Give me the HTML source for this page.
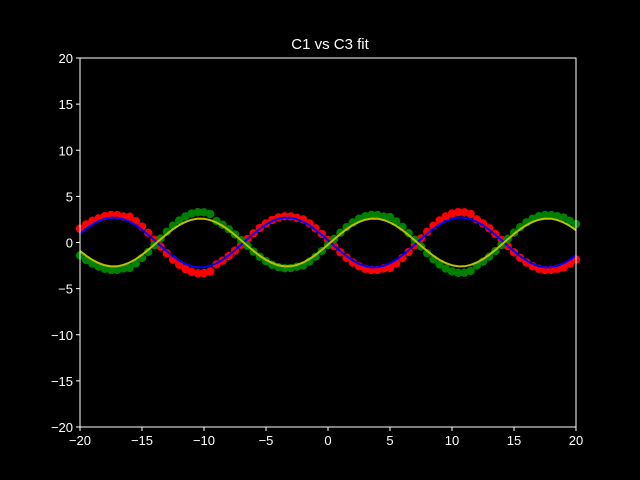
<!DOCTYPE html>
<html><head><meta charset="utf-8"><style>
html,body{margin:0;padding:0;background:#000;}
svg{display:block;font-family:"Liberation Sans","DejaVu Sans",sans-serif;}
</style></head><body>
<svg id="chart" width="640" height="480" viewBox="0 0 640 480">
<rect x="0" y="0" width="640" height="480" fill="#000"/>
<text x="330" y="49" fill="#fff" font-size="15" text-anchor="middle">C1 vs C3 fit</text>
<g id="marks"></g>
<rect x="80" y="58" width="496" height="369" fill="none" stroke="#fff" stroke-width="1"/>
<g id="axes"></g>
</svg>
<script>
const xTicks=[-20,-15,-10,-5,0,5,10,15,20];
const yTicks=[-20,-15,-10,-5,0,5,10,15,20];
const xStart=-20, xStep=0.5;
const redValues=[1.5,1.95,2.35,2.62,2.85,2.99,2.97,2.81,2.79,2.31,1.72,1.04,0.30,-0.45,-1.18,-1.85,-2.42,-2.88,-3.19,-3.34,-3.32,-3.14,-2.38,-1.97,-1.46,-0.88,-0.25,0.38,1.00,1.57,2.06,2.45,2.71,2.84,2.82,2.67,2.50,2.07,1.54,0.93,0.27,-0.40,-1.06,-1.66,-2.17,-2.58,-2.85,-2.99,-2.97,-2.81,-2.75,-2.28,-1.69,-1.02,-0.29,0.44,1.16,1.82,2.39,2.83,3.14,3.29,3.27,3.09,2.50,2.07,1.54,0.93,0.27,-0.40,-1.06,-1.66,-2.17,-2.58,-2.85,-2.99,-2.97,-2.85,-2.7,-2.3,-1.85];
const greenValues=[-1.4,-1.9,-2.3,-2.62,-2.85,-2.99,-2.97,-2.81,-2.75,-2.28,-1.69,-1.02,-0.29,0.44,1.16,1.82,2.39,2.83,3.14,3.29,3.27,3.09,2.34,1.93,1.43,0.87,0.25,-0.37,-0.99,-1.55,-2.02,-2.41,-2.66,-2.79,-2.77,-2.62,-2.50,-2.07,-1.54,-0.93,-0.27,0.40,1.06,1.66,2.17,2.58,2.85,2.99,2.97,2.81,2.75,2.28,1.69,1.02,0.29,-0.44,-1.16,-1.82,-2.39,-2.83,-3.14,-3.29,-3.27,-3.09,-2.50,-2.07,-1.54,-0.93,-0.27,0.40,1.06,1.66,2.17,2.58,2.85,2.99,2.97,2.85,2.7,2.35,2.0];
const blueFit=[0.95,1.49,1.95,2.32,2.57,2.69,2.68,2.53,2.25,1.87,1.38,0.83,0.24,-0.36,-0.95,-1.49,-1.95,-2.32,-2.57,-2.69,-2.68,-2.53,-2.25,-1.87,-1.38,-0.83,-0.24,0.36,0.95,1.49,1.95,2.32,2.57,2.69,2.68,2.53,2.25,1.87,1.38,0.83,0.24,-0.36,-0.95,-1.49,-1.95,-2.32,-2.57,-2.69,-2.68,-2.53,-2.25,-1.87,-1.38,-0.83,-0.24,0.36,0.95,1.49,1.95,2.32,2.57,2.69,2.68,2.53,2.25,1.87,1.38,0.83,0.24,-0.36,-0.95,-1.49,-1.95,-2.32,-2.57,-2.69,-2.68,-2.53,-2.25,-1.87,-1.38];
const yellowFit=[-0.92,-1.44,-1.88,-2.23,-2.47,-2.59,-2.58,-2.43,-2.17,-1.80,-1.33,-0.80,-0.23,0.35,0.92,1.44,1.88,2.23,2.47,2.59,2.58,2.43,2.17,1.80,1.33,0.80,0.23,-0.35,-0.92,-1.44,-1.88,-2.23,-2.47,-2.59,-2.58,-2.43,-2.17,-1.80,-1.33,-0.80,-0.23,0.35,0.92,1.44,1.88,2.23,2.47,2.59,2.58,2.43,2.17,1.80,1.33,0.80,0.23,-0.35,-0.92,-1.44,-1.88,-2.23,-2.47,-2.59,-2.58,-2.43,-2.17,-1.80,-1.33,-0.80,-0.23,0.35,0.92,1.44,1.88,2.23,2.47,2.59,2.58,2.43,2.17,1.80,1.33];

const NS='http://www.w3.org/2000/svg';
const L=80,R=576,T=58,B=427;
function sx(v){return L+(v+20)/40*(R-L);}
function sy(v){return B-(v+20)/40*(B-T);}
function xAt(i){return xStart+i*xStep;}
const marks=document.getElementById('marks');
const axes=document.getElementById('axes');

function drawPoints(vals,color,name){
  const g=document.createElementNS(NS,'g');
  
  
  vals.forEach((v,i)=>{
    const c=document.createElementNS(NS,'circle');
    c.setAttribute('cx',sx(xAt(i)));c.setAttribute('cy',sy(v));c.setAttribute('r',4.2);
    c.setAttribute('fill',color);
    
    
    g.appendChild(c);
  });
  marks.appendChild(g);
}
function drawLine(vals,color,name){
  const p=document.createElementNS(NS,'polyline');
  p.setAttribute('points',vals.map((v,i)=>sx(xAt(i))+','+sy(v)).join(' '));
  p.setAttribute('fill','none');p.setAttribute('stroke',color);p.setAttribute('stroke-width',2);
  
  
  marks.appendChild(p);
}
drawPoints(redValues,'#ff0000','c1-points');
drawPoints(greenValues,'#008000','c3-points');
drawLine(blueFit,'#0000ff','c1-fit-line');
drawLine(yellowFit,'#bfbf00','c3-fit-line');

xTicks.forEach(t=>{
  const x=sx(t);
  const l=document.createElementNS(NS,'line');
  l.setAttribute('x1',x);l.setAttribute('x2',x);l.setAttribute('y1',B);l.setAttribute('y2',B+4);l.setAttribute('stroke','#fff');
  
  
  axes.appendChild(l);
  const tx=document.createElementNS(NS,'text');
  tx.setAttribute('x',x);tx.setAttribute('y',B+18);tx.setAttribute('fill','#fff');tx.setAttribute('font-size','13');tx.setAttribute('text-anchor','middle');
  tx.textContent=t<0?'\u2212'+(-t):String(t);
  
  
  axes.appendChild(tx);
});
yTicks.forEach(t=>{
  const y=sy(t);
  const l=document.createElementNS(NS,'line');
  l.setAttribute('x1',L-4);l.setAttribute('x2',L);l.setAttribute('y1',y);l.setAttribute('y2',y);l.setAttribute('stroke','#fff');
  
  
  axes.appendChild(l);
  const tx=document.createElementNS(NS,'text');
  tx.setAttribute('x',L-7);tx.setAttribute('y',y+5);tx.setAttribute('fill','#fff');tx.setAttribute('font-size','13');tx.setAttribute('text-anchor','end');
  tx.textContent=t<0?'\u2212'+(-t):String(t);
  
  
  axes.appendChild(tx);
});
</script>
</body></html>
